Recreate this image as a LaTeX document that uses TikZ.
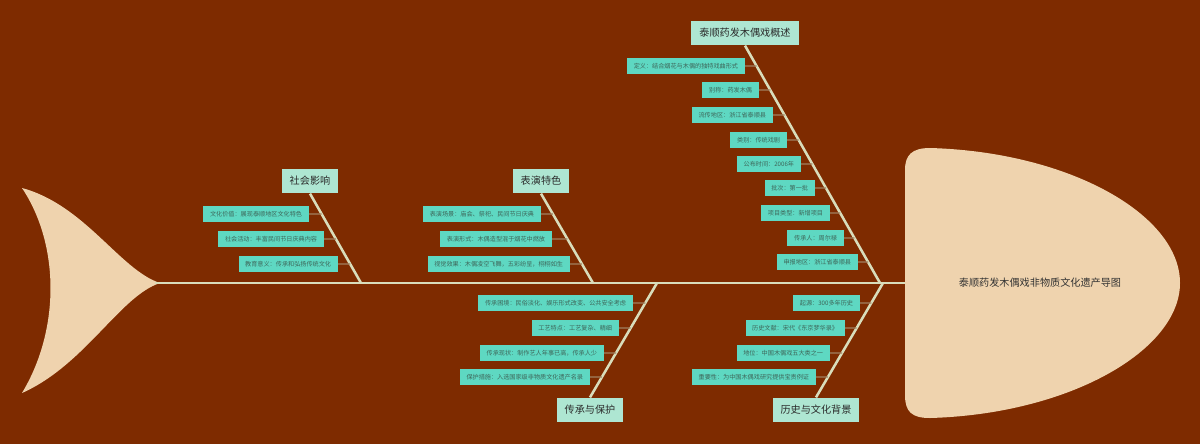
\documentclass[tikz,border=0pt]{standalone}
\usepackage{fontspec}
\setmainfont{Noto Sans CJK SC}
\begin{document}
\begin{tikzpicture}[x=0.75pt,y=-0.75pt,
  bone/.style={draw=bonec,line width=1.9pt},
  twigline/.style={draw=twigc,line width=0.8pt},
  leaf/.style={fill=leafc,text=leaftext,font=\fontsize{4.6}{5}\selectfont,minimum height=12.5pt,inner xsep=5pt,inner ysep=0pt,anchor=east},
  cat/.style={fill=catc,text=cattext,font=\fontsize{7.6}{9}\selectfont,minimum height=18.5pt,inner xsep=6pt,inner ysep=0pt}]
\definecolor{bg}{HTML}{7E2B00}
\definecolor{bodyc}{HTML}{EFD3AE}
\definecolor{bonec}{HTML}{D9DDBB}
\definecolor{twigc}{HTML}{A08060}
\definecolor{leafc}{HTML}{5ED8C2}
\definecolor{leaftext}{HTML}{3E6659}
\definecolor{catc}{HTML}{AEE6D2}
\definecolor{cattext}{HTML}{2B2B2B}
\fill[bg] (0,0) rectangle (1200,444);
\useasboundingbox (0,0) rectangle (1200,444);
% tail
\fill[bodyc] (22,188) .. controls (85,205) and (120,270) .. (160,283)
  .. controls (120,296) and (85,365) .. (22,393)
  .. controls (60,330) and (60,245) .. (22,188);
% head
\fill[bodyc] (930,148) .. controls (1070,152) and (1180,215) .. (1180,283)
  .. controls (1180,350) and (1070,414) .. (930,418)
  .. controls (912,418) and (905,412) .. (905,395) -- (905,170)
  .. controls (905,155) and (912,148) .. (930,148);
\node[font=\fontsize{7.6}{9}\selectfont,text=black!80] (title) at (1040,283) {泰顺药发木偶戏非物质文化遗产导图};
% spine
\coordinate (tailpt) at (155,283);
\coordinate (headpt) at (905,283);
\draw[draw=bonec,line width=1.2pt] (tailpt) -- (headpt);
% categories
\node[cat] (c1) at (745,33) {泰顺药发木偶戏概述};
\node[cat] (c2) at (541,181) {表演特色};
\node[cat] (c3) at (310,181) {社会影响};
\node[cat] (c4) at (590,410) {传承与保护};
\node[cat] (c5) at (816,410) {历史与文化背景};
\coordinate (b1) at (880,283);
\coordinate (b2) at (593,283);
\coordinate (b3) at (361,283);
\coordinate (b4) at (657,283);
\coordinate (b5) at (883,283);
\draw[bone] (c1.south) -- (b1);
\draw[bone] (c2.south) -- (b2);
\draw[bone] (c3.south) -- (b3);
\draw[bone] (c4.north) -- (b4);
\draw[bone] (c5.north) -- (b5);
\newcommand\twig[3]{\path (#1.east) coordinate (#1l) ++(10,0) coordinate (#1r);
  \draw[twigline] (#1l) -- (intersection of #1l--#1r and #2--#3);}
% group 1
\node[leaf] (a1) at (745,66) {定义：结合烟花与木偶的独特戏曲形式};
\node[leaf] (a2) at (759,90) {别称：药发木偶};
\node[leaf] (a3) at (773,115) {流传地区：浙江省泰顺县};
\node[leaf] (a4) at (787,140) {类别：传统戏剧};
\node[leaf] (a5) at (801,164) {公布时间：2006年};
\node[leaf] (a6) at (815,188) {批次：第一批};
\node[leaf] (a7) at (830,213) {项目类型：新增项目};
\node[leaf] (a8) at (844,238) {传承人：周尔禄};
\node[leaf] (a9) at (858,262) {申报地区：浙江省泰顺县};
\foreach \n in {a1,a2,a3,a4,a5,a6,a7,a8,a9} {\twig{\n}{c1.south}{b1}}
% group 2
\node[leaf] (p1) at (541,214) {表演场景：庙会、祭祀、民间节日庆典};
\node[leaf] (p2) at (552,239) {表演形式：木偶造型混于烟花中燃放};
\node[leaf] (p3) at (570,264) {视觉效果：木偶凌空飞舞，五彩纷呈，栩栩如生};
\foreach \n in {p1,p2,p3} {\twig{\n}{c2.south}{b2}}
% group 3
\node[leaf] (s1) at (309,214) {文化价值：展现泰顺地区文化特色};
\node[leaf] (s2) at (324,239) {社会活动：丰富民间节日庆典内容};
\node[leaf] (s3) at (338,264) {教育意义：传承和弘扬传统文化};
\foreach \n in {s1,s2,s3} {\twig{\n}{c3.south}{b3}}
% group 4
\node[leaf] (t1) at (633,303) {传承困境：民俗淡化、娱乐形式改变、公共安全考虑};
\node[leaf] (t2) at (619,328) {工艺特点：工艺复杂、精细};
\node[leaf] (t3) at (604,353) {传承现状：制作艺人年事已高，传承人少};
\node[leaf] (t4) at (590,377) {保护措施：入选国家级非物质文化遗产名录};
\foreach \n in {t1,t2,t3,t4} {\twig{\n}{c4.north}{b4}}
% group 5
\node[leaf] (h1) at (860,303) {起源：300多年历史};
\node[leaf] (h2) at (845,328) {历史文献：宋代《东京梦华录》};
\node[leaf] (h3) at (830,353) {地位：中国木偶戏五大类之一};
\node[leaf] (h4) at (816,377) {重要性：为中国木偶戏研究提供宝贵例证};
\foreach \n in {h1,h2,h3,h4} {\twig{\n}{c5.north}{b5}}
\end{tikzpicture}
\end{document}
